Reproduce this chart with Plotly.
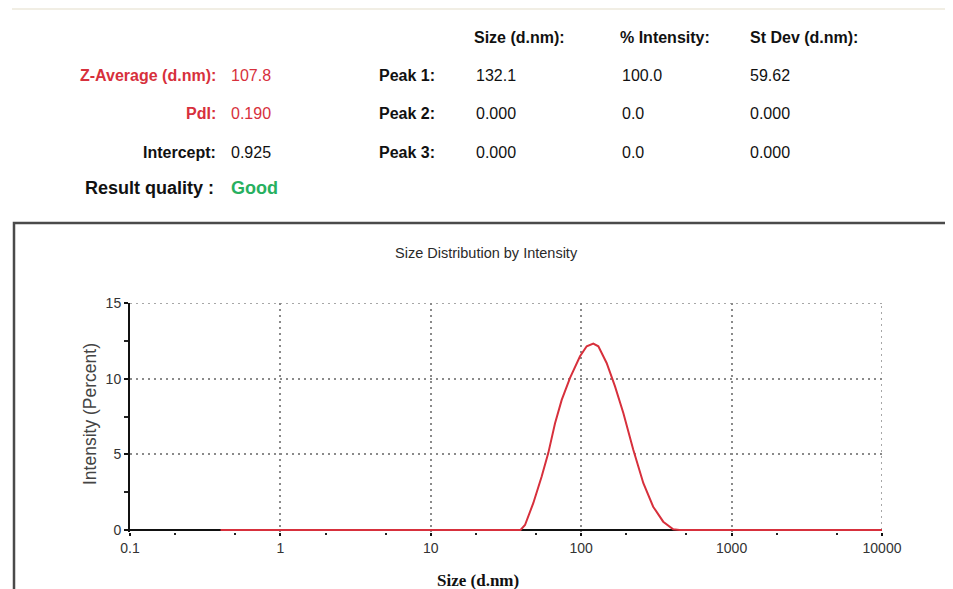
import plotly.graph_objects as go

# ---- data ----
size_nm = [0.4, 1, 10, 39.5, 42.3, 48, 54.6, 60.4, 67, 74.2, 84.3, 98.2, 108.8, 120.3, 130,
           147.6, 167.8, 190.6, 222, 259, 301, 351, 409, 450, 1000, 10000]
intensity = [0, 0, 0, 0, 0.33, 1.77, 3.53, 5.08, 7.06, 8.6, 10.05, 11.48, 12.14, 12.32, 12.14,
             11.04, 9.49, 7.73, 5.3, 3.09, 1.54, 0.55, 0.05, 0, 0, 0]

x_tickvals = [0.1, 1, 10, 100, 1000, 10000]
x_ticktext = ["0.1", "1", "10", "100", "1000", "10000"]
y_tickvals = [0, 5, 10, 15]

summary_labels = ["Z-Average (d.nm):", "PdI:", "Intercept:", "Result quality :"]
summary_values = ["107.8", "0.190", "0.925", "Good"]
peak_labels = ["Peak 1:", "Peak 2:", "Peak 3:"]
col_headers = ["Size (d.nm):", "% Intensity:", "St Dev (d.nm):"]
peak_sizes = ["132.1", "0.000", "0.000"]
peak_intens = ["100.0", "0.0", "0.0"]
peak_stdev = ["59.62", "0.000", "0.000"]

OFF = 8
W, H = 953 - OFF, 589 - OFF
NARROW = "Liberation Sans Narrow, Arial Narrow, Liberation Sans, Arial"
RED = "#d7303c"

def px(x):
    return (x - OFF) / W

def py(y):
    return 1 - (y - OFF) / H

# small pad below zero so the baseline is not clipped by the plot edge
Y_PAD = 0.12
Y_TOP_PX, Y_ZERO_PX = 303, 530
y_bottom_px = Y_ZERO_PX + Y_PAD * (Y_ZERO_PX - Y_TOP_PX) / 15

fig = go.Figure()
fig.add_trace(go.Scatter(x=size_nm, y=intensity, mode="lines",
                         line=dict(color=RED, width=2), cliponaxis=False,
                         hoverinfo="skip", showlegend=False))

ann = []
def add_text(x, y, text, anchor, size, color, family=NARROW, angle=0):
    ann.append(dict(x=px(x), y=py(y), xref="paper", yref="paper", text=text,
                    xanchor=anchor, yanchor="middle", showarrow=False, textangle=angle,
                    font=dict(family=family, size=size, color=color)))

# summary block
sum_y = [75, 113, 152, 188]
sum_label_colors = [RED, RED, "#111111", "#111111"]
sum_val_colors = [RED, RED, "#111111", "#27b060"]
for i, (lab, val) in enumerate(zip(summary_labels, summary_values)):
    big = i == 3
    add_text(216 if big else 218, sum_y[i], "<b>%s</b>" % lab, "right", 18 if big else 16,
             sum_label_colors[i])
    add_text(229, sum_y[i], ("<b>%s</b>" % val) if big else val, "left", 18 if big else 16,
             sum_val_colors[i])

# peak table
for cx, h in zip([472, 618, 748], col_headers):
    add_text(cx, 38, "<b>%s</b>" % h, "left", 16, "#111111")
row_y = [75, 113, 152]
for i, lab in enumerate(peak_labels):
    add_text(437, row_y[i], "<b>%s</b>" % lab, "right", 16, "#111111")
    for cx, vals in zip([474, 620, 748], [peak_sizes, peak_intens, peak_stdev]):
        add_text(cx, row_y[i], vals[i], "left", 16, "#111111")

# chart title and axis titles
add_text(486, 253, "Size Distribution by Intensity", "center", 14.5, "#2a2a2a")
add_text(90, 414, "Intensity (Percent)", "center", 17.5, "#444444", angle=-90)
add_text(478, 580, "<b>Size (d.nm)</b>", "center", 17, "#111111",
         family="Liberation Serif, Times New Roman, serif")

grid_dash = "2px,4px"
grid_col = "#8a8a8a"
shapes = [
    dict(type="rect", xref="paper", yref="paper", x0=px(14), x1=px(975), y0=py(610), y1=py(223),
         line=dict(color="#4a4a4a", width=2.5), fillcolor="rgba(0,0,0,0)", layer="below"),
    dict(type="line", xref="paper", yref="paper", x0=px(12), x1=px(953), y0=py(9), y1=py(9),
         line=dict(color="#f1eee4", width=2)),
    # outer grid lines at the last ticks (plotly hides those at the range edge)
    dict(type="line", xref="x", yref="y", x0=x_tickvals[0], x1=x_tickvals[-1],
         y0=y_tickvals[-1], y1=y_tickvals[-1], layer="below",
         line=dict(color=grid_col, width=1.5, dash=grid_dash)),
    dict(type="line", xref="x", yref="y", x0=x_tickvals[-1], x1=x_tickvals[-1],
         y0=y_tickvals[0], y1=y_tickvals[-1], layer="below",
         line=dict(color=grid_col, width=1.5, dash=grid_dash)),
    # x axis base line at y = 0, drawn beneath the red trace
    dict(type="line", xref="x", yref="y", x0=x_tickvals[0], x1=x_tickvals[-1],
         y0=y_tickvals[0], y1=y_tickvals[0], layer="between",
         line=dict(color="#111111", width=2)),
]

tick_font = dict(family="Liberation Sans, Arial", size=14, color="#333333")
fig.update_layout(
    width=W, height=H,
    margin=dict(l=0, r=0, t=0, b=0, pad=0, autoexpand=False),
    paper_bgcolor="white", plot_bgcolor="white",
    annotations=ann, shapes=shapes, showlegend=False,
    xaxis=dict(type="log", range=[-1, 4], domain=[px(130), px(882)], automargin=False,
               tickvals=x_tickvals, ticktext=x_ticktext,
               showline=False,
               ticks="outside", ticklen=3, tickwidth=2, tickcolor="#111111",
               minor=dict(ticks="outside", ticklen=2, tickwidth=2, tickcolor="#222222",
                          showgrid=False),
               showgrid=True, gridcolor=grid_col, gridwidth=1.5, griddash=grid_dash,
               zeroline=False, layer="below traces", tickfont=tick_font),
    yaxis=dict(range=[-Y_PAD, 15], domain=[py(y_bottom_px), py(Y_TOP_PX)], automargin=False,
               tickvals=y_tickvals, showline=True, linecolor="#111111", linewidth=2,
               ticks="outside", ticklen=4, tickwidth=2, tickcolor="#111111",
               minor=dict(ticks="outside", ticklen=4, tickwidth=2, dtick=2.5, tick0=0,
                          tickcolor="#222222", showgrid=False),
               showgrid=True, gridcolor=grid_col, gridwidth=1.5, griddash=grid_dash,
               zeroline=False, layer="below traces", tickfont=tick_font),
)

fig.write_html("out.html")
